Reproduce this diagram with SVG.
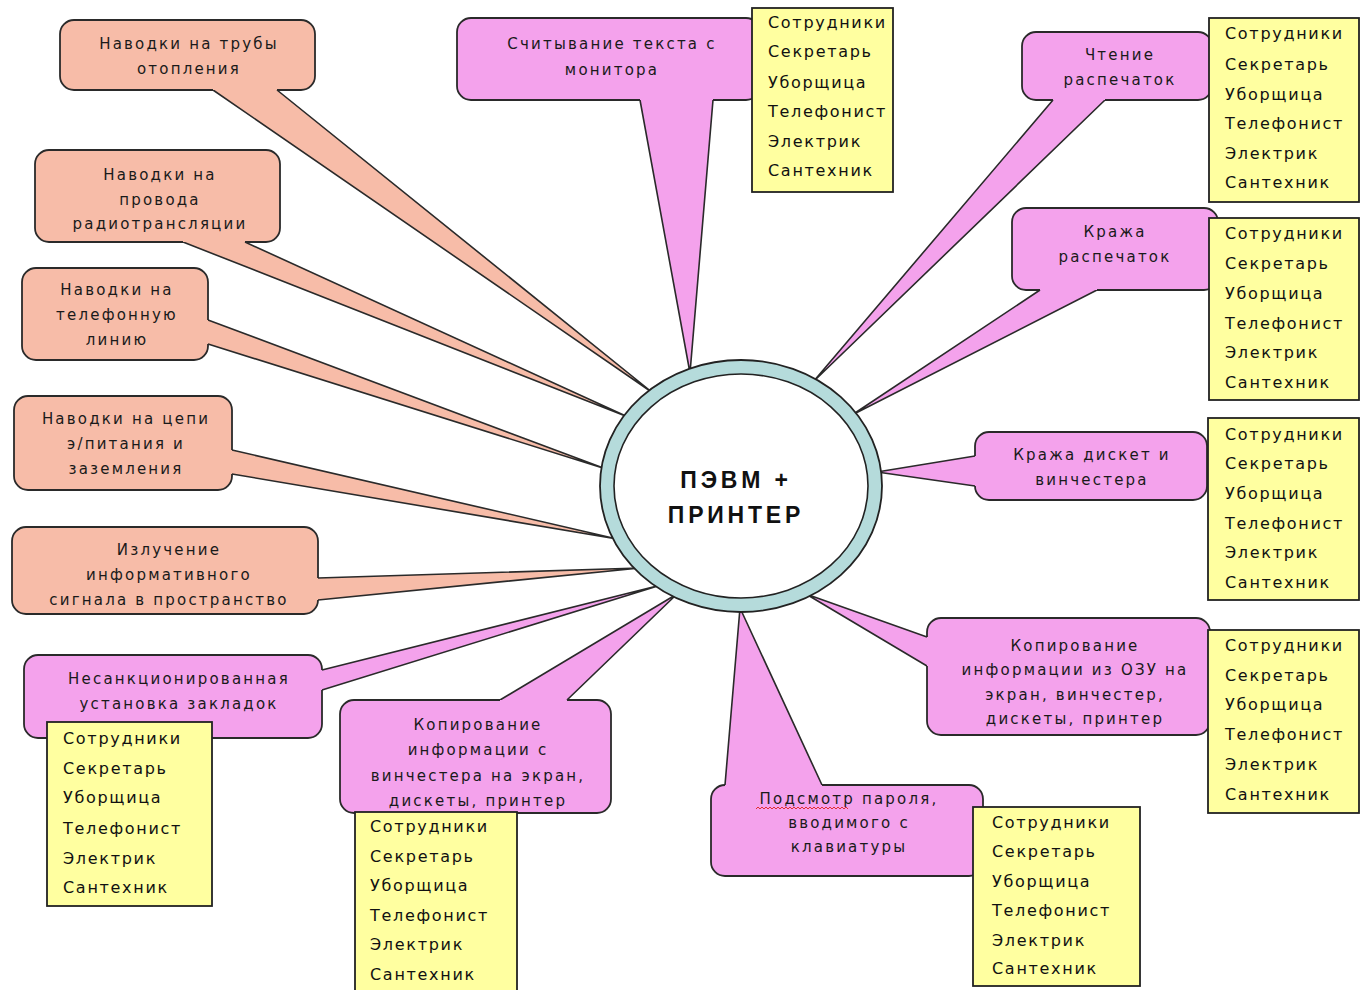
<svg xmlns="http://www.w3.org/2000/svg" width="1362" height="990" viewBox="0 0 1362 990">
<style>
.sal{fill:#f7bca8}
.pnk{fill:#f4a2ec}
.ol{fill:none;stroke:#2a2a2a;stroke-width:1.8;stroke-linejoin:round}
.ws{fill:none;stroke:#2a2a2a;stroke-width:1.6;stroke-linejoin:miter}
.t{font-family:"DejaVu Sans","Liberation Sans",sans-serif;font-size:15px;letter-spacing:2.2px;fill:#1a1a1a;text-anchor:middle}
.l{font-family:"DejaVu Sans","Liberation Sans",sans-serif;font-size:16px;letter-spacing:1.7px;fill:#111}
.box{fill:#ffffa0;stroke:#222;stroke-width:1.8}
.ring{fill:#b5dbdb;stroke:#222;stroke-width:1.8}
.hole{fill:#ffffff;stroke:#222;stroke-width:1.6}
.ct{font-family:"Liberation Sans",Arial,sans-serif;font-size:23px;font-weight:bold;letter-spacing:3.8px;fill:#111;text-anchor:middle}
.sq{fill:none;stroke:#e03030;stroke-width:1}
</style>
<rect width="1362" height="990" fill="#ffffff"/>

<g id="connectors">
  <g id="w1"><polygon class="sal" points="213,90 653,393 277,90"/><polyline class="ws" points="213,90 653,393 277,90"/></g>
  <g id="w2"><polygon class="sal" points="183,242 628,417 245,242"/><polyline class="ws" points="183,242 628,417 245,242"/></g>
  <g id="w3"><polygon class="sal" points="208,320 606,469 208,344"/><polyline class="ws" points="208,320 606,469 208,344"/></g>
  <g id="w4"><polygon class="sal" points="232,450 617,539 232,474"/><polyline class="ws" points="232,450 617,539 232,474"/></g>
  <g id="w5"><polygon class="sal" points="318,578 640,568 318,600"/><polyline class="ws" points="318,578 640,568 318,600"/></g>
  <g id="w6"><polygon class="pnk" points="322,670 661,585 322,690"/><polyline class="ws" points="322,670 661,585 322,690"/></g>
  <g id="w7"><polygon class="pnk" points="500,700 677,594 567,700"/><polyline class="ws" points="500,700 677,594 567,700"/></g>
  <g id="w8"><polygon class="pnk" points="725,785 740,608 822,785"/><polyline class="ws" points="725,785 740,608 822,785"/></g>
  <g id="w9"><polygon class="pnk" points="927,637 806,594 927,666"/><polyline class="ws" points="927,637 806,594 927,666"/></g>
  <g id="w10"><polygon class="pnk" points="975,456 877,472 975,486"/><polyline class="ws" points="975,456 877,472 975,486"/></g>
  <g id="w11"><polygon class="pnk" points="1040,290 852,415 1097,290"/><polyline class="ws" points="1040,290 852,415 1097,290"/></g>
  <g id="w12"><polygon class="pnk" points="1053,100 813,382 1105,100"/><polyline class="ws" points="1053,100 813,382 1105,100"/></g>
  <g id="w13"><polygon class="pnk" points="640,100 690,373 713,100"/><polyline class="ws" points="640,100 690,373 713,100"/></g>
</g>

<g id="center">
  <ellipse class="ring" cx="741" cy="486" rx="141" ry="126"/>
  <ellipse class="hole" cx="741" cy="486" rx="127" ry="112"/>
  <text class="ct" x="736" y="488">ПЭВМ +</text>
  <text class="ct" x="736" y="523">ПРИНТЕР</text>
</g>

<g id="c1">
  <rect class="sal" x="60" y="20" width="255" height="70" rx="14"/>
  <path class="ol" d="M213,90 H74 A14,14 0 0 1 60,76 V34 A14,14 0 0 1 74,20 H301 A14,14 0 0 1 315,34 V76 A14,14 0 0 1 301,90 H277"/>
  <text class="t" x="189" y="49">Наводки на трубы</text>
  <text class="t" x="189" y="74">отопления</text>
</g>
<g id="c2">
  <rect class="sal" x="35" y="150" width="245" height="92" rx="14"/>
  <path class="ol" d="M183,242 H49 A14,14 0 0 1 35,228 V164 A14,14 0 0 1 49,150 H266 A14,14 0 0 1 280,164 V228 A14,14 0 0 1 266,242 H245"/>
  <text class="t" x="160" y="180">Наводки на</text>
  <text class="t" x="160" y="205">провода</text>
  <text class="t" x="160" y="229">радиотрансляции</text>
</g>
<g id="c3">
  <rect class="sal" x="22" y="268" width="186" height="92" rx="14"/>
  <path class="ol" d="M208,344 V346 A14,14 0 0 1 194,360 H36 A14,14 0 0 1 22,346 V282 A14,14 0 0 1 36,268 H194 A14,14 0 0 1 208,282 V320"/>
  <text class="t" x="117" y="295">Наводки на</text>
  <text class="t" x="117" y="320">телефонную</text>
  <text class="t" x="117" y="345">линию</text>
</g>
<g id="c4">
  <rect class="sal" x="14" y="396" width="218" height="94" rx="14"/>
  <path class="ol" d="M232,474 V476 A14,14 0 0 1 218,490 H28 A14,14 0 0 1 14,476 V410 A14,14 0 0 1 28,396 H218 A14,14 0 0 1 232,410 V450"/>
  <text class="t" x="126" y="424">Наводки на цепи</text>
  <text class="t" x="126" y="449">э/питания и</text>
  <text class="t" x="126" y="474">заземления</text>
</g>
<g id="c5">
  <rect class="sal" x="12" y="527" width="306" height="87" rx="14"/>
  <path class="ol" d="M318,600 V600 A14,14 0 0 1 304,614 H26 A14,14 0 0 1 12,600 V541 A14,14 0 0 1 26,527 H304 A14,14 0 0 1 318,541 V578"/>
  <text class="t" x="169" y="555">Излучение</text>
  <text class="t" x="169" y="580">информативного</text>
  <text class="t" x="169" y="605">сигнала в пространство</text>
</g>
<g id="c6">
  <rect class="pnk" x="24" y="655" width="298" height="83" rx="14"/>
  <path class="ol" d="M322,690 V724 A14,14 0 0 1 308,738 H38 A14,14 0 0 1 24,724 V669 A14,14 0 0 1 38,655 H308 A14,14 0 0 1 322,669 V670"/>
  <text class="t" x="179" y="684">Несанкционированная</text>
  <text class="t" x="179" y="709">установка закладок</text>
</g>
<g id="c7">
  <rect class="pnk" x="340" y="700" width="271" height="113" rx="14"/>
  <path class="ol" d="M567,700 H597 A14,14 0 0 1 611,714 V799 A14,14 0 0 1 597,813 H354 A14,14 0 0 1 340,799 V714 A14,14 0 0 1 354,700 H500"/>
  <text class="t" x="478" y="730">Копирование</text>
  <text class="t" x="478" y="755">информации с</text>
  <text class="t" x="478" y="781">винчестера на экран,</text>
  <text class="t" x="478" y="806">дискеты, принтер</text>
</g>
<g id="c8">
  <rect class="pnk" x="711" y="785" width="272" height="91" rx="14"/>
  <path class="ol" d="M822,785 H969 A14,14 0 0 1 983,799 V862 A14,14 0 0 1 969,876 H725 A14,14 0 0 1 711,862 V799 A14,14 0 0 1 725,785"/>
  <text class="t" x="849" y="804">Подсмотр пароля,</text>
  <text class="t" x="849" y="828">вводимого с</text>
  <text class="t" x="849" y="852">клавиатуры</text>
  <path class="sq" d="M756,809 l2,-2 l2,2 l2,-2 l2,2 l2,-2 l2,2 l2,-2 l2,2 l2,-2 l2,2 l2,-2 l2,2 l2,-2 l2,2 l2,-2 l2,2 l2,-2 l2,2 l2,-2 l2,2 l2,-2 l2,2 l2,-2 l2,2 l2,-2 l2,2 l2,-2 l2,2 l2,-2 l2,2 l2,-2 l2,2 l2,-2 l2,2 l2,-2 l2,2 l2,-2 l2,2 l2,-2 l2,2 l2,-2 l2,2 l2,-2 l2,2 l2,-2 l2,2"/>
</g>
<g id="c9">
  <rect class="pnk" x="927" y="618" width="283" height="117" rx="14"/>
  <path class="ol" d="M927,637 V632 A14,14 0 0 1 941,618 H1196 A14,14 0 0 1 1210,632 V721 A14,14 0 0 1 1196,735 H941 A14,14 0 0 1 927,721 V666"/>
  <text class="t" x="1075" y="651">Копирование</text>
  <text class="t" x="1075" y="675">информации из ОЗУ на</text>
  <text class="t" x="1075" y="700">экран, винчестер,</text>
  <text class="t" x="1075" y="724">дискеты, принтер</text>
</g>
<g id="c10">
  <rect class="pnk" x="975" y="432" width="232" height="68" rx="14"/>
  <path class="ol" d="M975,456 V446 A14,14 0 0 1 989,432 H1193 A14,14 0 0 1 1207,446 V486 A14,14 0 0 1 1193,500 H989 A14,14 0 0 1 975,486"/>
  <text class="t" x="1092" y="460">Кража дискет и</text>
  <text class="t" x="1092" y="485">винчестера</text>
</g>
<g id="c11">
  <rect class="pnk" x="1012" y="208" width="206" height="82" rx="14"/>
  <path class="ol" d="M1040,290 H1026 A14,14 0 0 1 1012,276 V222 A14,14 0 0 1 1026,208 H1204 A14,14 0 0 1 1218,222 V276 A14,14 0 0 1 1204,290 H1097"/>
  <text class="t" x="1115" y="237">Кража</text>
  <text class="t" x="1115" y="262">распечаток</text>
</g>
<g id="c12">
  <rect class="pnk" x="1022" y="32" width="190" height="68" rx="14"/>
  <path class="ol" d="M1053,100 H1036 A14,14 0 0 1 1022,86 V46 A14,14 0 0 1 1036,32 H1198 A14,14 0 0 1 1212,46 V86 A14,14 0 0 1 1198,100 H1105"/>
  <text class="t" x="1120" y="60">Чтение</text>
  <text class="t" x="1120" y="85">распечаток</text>
</g>
<g id="c13">
  <rect class="pnk" x="457" y="18" width="303" height="82" rx="14"/>
  <path class="ol" d="M640,100 H471 A14,14 0 0 1 457,86 V32 A14,14 0 0 1 471,18 H746 A14,14 0 0 1 760,32 V86 A14,14 0 0 1 746,100 H713"/>
  <text class="t" x="612" y="49">Считывание текста с</text>
  <text class="t" x="612" y="75">монитора</text>
</g>

<g id="list13">
  <rect class="box" x="752" y="8" width="141" height="184"/>
  <text class="l" x="768" y="28">Сотрудники</text><text class="l" x="768" y="57">Секретарь</text><text class="l" x="768" y="88">Уборщица</text><text class="l" x="768" y="117">Телефонист</text><text class="l" x="768" y="147">Электрик</text><text class="l" x="768" y="176">Сантехник</text>
</g>
<g id="list12">
  <rect class="box" x="1209" y="18" width="150" height="184"/>
  <text class="l" x="1225" y="39">Сотрудники</text><text class="l" x="1225" y="70">Секретарь</text><text class="l" x="1225" y="100">Уборщица</text><text class="l" x="1225" y="129">Телефонист</text><text class="l" x="1225" y="159">Электрик</text><text class="l" x="1225" y="188">Сантехник</text>
</g>
<g id="list11">
  <rect class="box" x="1209" y="218" width="150" height="182"/>
  <text class="l" x="1225" y="239">Сотрудники</text><text class="l" x="1225" y="269">Секретарь</text><text class="l" x="1225" y="299">Уборщица</text><text class="l" x="1225" y="329">Телефонист</text><text class="l" x="1225" y="358">Электрик</text><text class="l" x="1225" y="388">Сантехник</text>
</g>
<g id="list10">
  <rect class="box" x="1208" y="418" width="151" height="182"/>
  <text class="l" x="1225" y="440">Сотрудники</text><text class="l" x="1225" y="469">Секретарь</text><text class="l" x="1225" y="499">Уборщица</text><text class="l" x="1225" y="529">Телефонист</text><text class="l" x="1225" y="558">Электрик</text><text class="l" x="1225" y="588">Сантехник</text>
</g>
<g id="list9">
  <rect class="box" x="1208" y="630" width="151" height="183"/>
  <text class="l" x="1225" y="651">Сотрудники</text><text class="l" x="1225" y="681">Секретарь</text><text class="l" x="1225" y="710">Уборщица</text><text class="l" x="1225" y="740">Телефонист</text><text class="l" x="1225" y="770">Электрик</text><text class="l" x="1225" y="800">Сантехник</text>
</g>
<g id="list8">
  <rect class="box" x="973" y="807" width="167" height="179"/>
  <text class="l" x="992" y="828">Сотрудники</text><text class="l" x="992" y="857">Секретарь</text><text class="l" x="992" y="887">Уборщица</text><text class="l" x="992" y="916">Телефонист</text><text class="l" x="992" y="946">Электрик</text><text class="l" x="992" y="974">Сантехник</text>
</g>
<g id="list7">
  <rect class="box" x="355" y="812" width="162" height="183"/>
  <text class="l" x="370" y="832">Сотрудники</text><text class="l" x="370" y="862">Секретарь</text><text class="l" x="370" y="891">Уборщица</text><text class="l" x="370" y="921">Телефонист</text><text class="l" x="370" y="950">Электрик</text><text class="l" x="370" y="980">Сантехник</text>
</g>
<g id="list6">
  <rect class="box" x="47" y="722" width="165" height="184"/>
  <text class="l" x="63" y="744">Сотрудники</text><text class="l" x="63" y="774">Секретарь</text><text class="l" x="63" y="803">Уборщица</text><text class="l" x="63" y="834">Телефонист</text><text class="l" x="63" y="864">Электрик</text><text class="l" x="63" y="893">Сантехник</text>
</g>
</svg>
